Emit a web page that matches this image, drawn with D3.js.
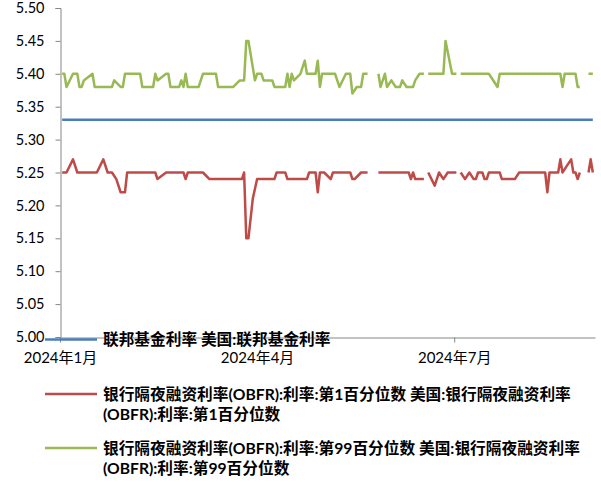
<!DOCTYPE html>
<html>
<head>
  <meta charset="utf-8">
  <title>OBFR</title>
  <script src="https://cdnjs.cloudflare.com/ajax/libs/d3/7.8.5/d3.min.js"></script>
  <style>
  body { margin: 0; background: #fff; }
  svg { display: block; }
  .axis text { font-family: Lato, "Noto Sans CJK SC", sans-serif; fill: #000; }
  .legend text { font-family: Lato, "Noto Sans CJK SC", sans-serif; font-weight: bold; fill: #000; }
  </style>
</head>
<body>
<script>

// y axis ticks
var yTicks = [5.00, 5.05, 5.10, 5.15, 5.20, 5.25, 5.30, 5.35, 5.40, 5.45, 5.50];
// x axis ticks
var xTickDates = ["2024-01-01", "2024-04-01", "2024-07-01"];
var xTickLabels = ["2024年1月", "2024年4月", "2024年7月"];

// 联邦基金利率
var fedDates = ["2024-01-02", "2024-09-03"];
var fedValues = [5.33, 5.33];

// OBFR 第1百分位数 (null = no data)
var p1Dates = [
  "2024-01-02","2024-01-04","2024-01-07","2024-01-09","2024-01-18","2024-01-21","2024-01-23","2024-01-25",
  "2024-01-27","2024-01-29","2024-01-31","2024-02-01","2024-02-14","2024-02-15","2024-02-19","2024-02-27",
  "2024-02-28","2024-02-29","2024-03-07","2024-03-10","2024-03-25","2024-03-26","2024-03-27","2024-03-28",
  "2024-03-30","2024-04-01","2024-04-09","2024-04-10","2024-04-14","2024-04-15","2024-04-24","2024-04-25",
  "2024-04-28","2024-04-29","2024-04-30","2024-05-02","2024-05-05","2024-05-06","2024-05-14","2024-05-15",
  "2024-05-16","2024-05-19","2024-05-22","2024-05-24","2024-05-27","2024-06-10","2024-06-11","2024-06-12",
  "2024-06-13","2024-06-17","2024-06-18","2024-06-19","2024-06-22","2024-06-24","2024-06-26","2024-06-28",
  "2024-07-02","2024-07-03","2024-07-04","2024-07-06","2024-07-08","2024-07-10","2024-07-11","2024-07-12",
  "2024-07-14","2024-07-15","2024-07-16","2024-07-17","2024-07-22","2024-07-23","2024-07-29","2024-07-31",
  "2024-08-12","2024-08-13","2024-08-14","2024-08-18","2024-08-19","2024-08-20","2024-08-22","2024-08-24",
  "2024-08-25","2024-08-26","2024-08-27","2024-08-28","2024-08-30","2024-09-01","2024-09-02","2024-09-03"
];
var p1Values = [
  5.25,5.25,5.27,5.25,5.25,5.27,5.25,5.25,
  5.24,5.22,5.22,5.25,5.25,5.24,5.25,5.25,
  5.24,5.25,5.25,5.24,5.24,5.25,5.15,5.15,
  5.21,5.24,5.24,5.25,5.25,5.24,5.24,5.25,
  5.25,5.22,5.25,5.25,5.24,5.25,5.25,5.24,
  5.24,5.25,5.25,null,5.25,5.25,5.24,5.25,
  5.24,5.24,null,5.25,5.23,5.25,5.24,5.25,
  5.25,null,5.25,5.24,5.25,5.24,5.24,5.25,
  5.25,5.24,5.24,5.25,5.25,5.24,5.24,5.25,
  5.25,5.22,5.25,5.25,5.27,5.25,5.26,5.27,
  5.25,5.25,5.24,5.25,null,5.25,5.27,5.25
];

// OBFR 第99百分位数
var p99Dates = [
  "2024-01-02","2024-01-03","2024-01-04","2024-01-07","2024-01-09","2024-01-10","2024-01-11","2024-01-12",
  "2024-01-16","2024-01-17","2024-01-25","2024-01-26","2024-01-29","2024-01-30","2024-01-31","2024-02-07",
  "2024-02-08","2024-02-13","2024-02-14","2024-02-15","2024-02-19","2024-02-20","2024-02-21","2024-02-25",
  "2024-02-26","2024-02-27","2024-02-28","2024-02-29","2024-03-05","2024-03-06","2024-03-07","2024-03-13",
  "2024-03-14","2024-03-21","2024-03-24","2024-03-26","2024-03-27","2024-03-28","2024-03-31","2024-04-01",
  "2024-04-03","2024-04-04","2024-04-08","2024-04-09","2024-04-14","2024-04-15","2024-04-16","2024-04-17",
  "2024-04-18","2024-04-21","2024-04-23","2024-04-24","2024-04-28","2024-04-29","2024-04-30","2024-05-01",
  "2024-05-07","2024-05-09","2024-05-12","2024-05-14","2024-05-15","2024-05-17","2024-05-19","2024-05-20",
  "2024-05-22","2024-05-24","2024-05-27","2024-05-28","2024-05-30","2024-05-31","2024-06-02","2024-06-04",
  "2024-06-06","2024-06-07","2024-06-09","2024-06-12","2024-06-13","2024-06-15","2024-06-17","2024-06-18",
  "2024-06-19","2024-06-26","2024-06-27","2024-06-30","2024-07-02","2024-07-03","2024-07-04","2024-07-17",
  "2024-07-21","2024-07-22","2024-08-19","2024-08-20","2024-08-21","2024-08-26","2024-08-27","2024-08-28",
  "2024-08-30","2024-09-01","2024-09-03"
];
var p99Values = [
  5.40,5.40,5.38,5.40,5.40,5.38,5.38,5.39,
  5.40,5.38,5.38,5.39,5.38,5.38,5.40,5.40,
  5.38,5.38,5.40,5.39,5.40,5.40,5.38,5.38,
  5.39,5.38,5.40,5.38,5.38,5.39,5.40,5.40,
  5.38,5.38,5.39,5.39,5.45,5.45,5.39,5.40,
  5.40,5.39,5.39,5.38,5.38,5.40,5.38,5.40,
  5.39,5.40,5.42,5.40,5.40,5.42,5.38,5.40,
  5.40,5.38,5.40,5.40,5.37,5.38,5.38,5.40,
  5.40,null,5.40,5.38,5.40,5.38,5.39,5.38,
  5.38,5.39,5.38,5.38,5.39,5.40,5.40,null,
  5.40,5.40,5.45,5.40,5.40,null,5.40,5.40,
  5.38,5.40,5.40,5.38,5.40,5.40,5.38,5.38,
  null,5.40,5.40
];

var fedLegend = ["联邦基金利率 美国:联邦基金利率"];
var p1Legend = ["银行隔夜融资利率(OBFR):利率:第1百分位数 美国:银行隔夜融资利率", "(OBFR):利率:第1百分位数"];
var p99Legend = ["银行隔夜融资利率(OBFR):利率:第99百分位数 美国:银行隔夜融资利率", "(OBFR):利率:第99百分位数"];

var width = 601, height = 482;
var plot = {left: 60, right: 595, top: 8, bottom: 337};
var parseDate = d3.timeParse("%Y-%m-%d");

function toPoints(dates, values) {
  return dates.map(function(d, i) { return {date: parseDate(d), value: values[i]}; });
}

var series = [
  {points: toPoints(fedDates, fedValues), color: "#4A7EBB", legend: fedLegend, legendY: 339.5},
  {points: toPoints(p1Dates, p1Values), color: "#BE4B48", legend: p1Legend, legendY: 394},
  {points: toPoints(p99Dates, p99Values), color: "#98B954", legend: p99Legend, legendY: 448}
];

var svg = d3.select("body").append("svg")
    .attr("width", width)
    .attr("height", height);

var x = d3.scaleTime()
    .domain([parseDate("2024-01-01"), parseDate("2024-09-04")])
    .range([plot.left, plot.right]);

var y = d3.scaleLinear()
    .domain([5.0, 5.5])
    .range([plot.bottom, plot.top]);

var yAxis = d3.axisLeft(y)
    .tickValues(yTicks)
    .tickFormat(d3.format(".2f"))
    .tickSize(5)
    .tickPadding(11);

var xAxis = d3.axisBottom(x)
    .tickValues(xTickDates.map(parseDate))
    .tickFormat(function(d, i) { return xTickLabels[i]; })
    .tickSize(5)
    .tickSizeOuter(0)
    .tickPadding(10);

var yAxisGroup = svg.append("g")
    .attr("class", "axis")
    .attr("transform", "translate(" + (plot.left + 0.5) + ",0)")
    .call(yAxis);

var xAxisGroup = svg.append("g")
    .attr("class", "axis")
    .attr("transform", "translate(0," + (plot.bottom + 0.5) + ")")
    .call(xAxis);

svg.selectAll(".axis .domain, .axis .tick line")
    .attr("stroke", "#868686");
yAxisGroup.selectAll("text").attr("font-size", "14.5px");
xAxisGroup.selectAll("text").attr("font-size", "15px");

var line = d3.line()
    .defined(function(d) { return d.value !== null; })
    .x(function(d) { return x(d.date); })
    .y(function(d) { return y(d.value); });

svg.selectAll(".series")
    .data(series)
    .enter().append("path")
    .attr("class", "series")
    .attr("fill", "none")
    .attr("stroke", function(s) { return s.color; })
    .attr("stroke-width", 2.5)
    .attr("stroke-linejoin", "round")
    .attr("d", function(s) { return line(s.points); });

// legend
var legend = svg.append("g").attr("class", "legend");

series.forEach(function(s) {
  legend.append("line")
      .attr("x1", 45).attr("x2", 97)
      .attr("y1", s.legendY).attr("y2", s.legendY)
      .attr("stroke", s.color)
      .attr("stroke-width", 2.5);

  s.legend.forEach(function(t, i) {
    legend.append("text")
        .attr("x", 103)
        .attr("y", s.legendY + i * 20)
        .attr("dy", "0.36em")
        .attr("font-size", "15.7px")
        .text(t);
  });
});

</script>
</body>
</html>
